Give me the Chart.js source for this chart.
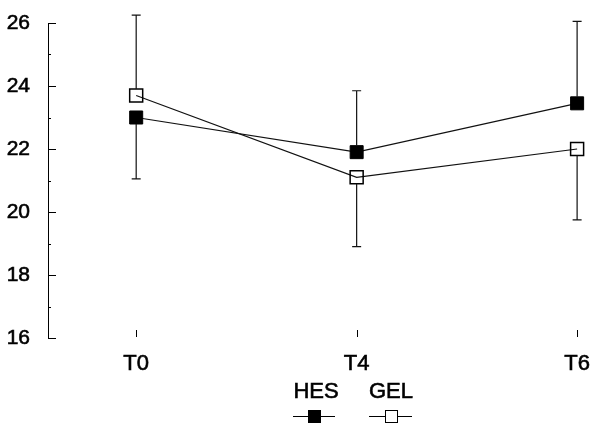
<!DOCTYPE html>
<html>
<head>
<meta charset="utf-8">
<script src="https://cdn.jsdelivr.net/npm/chart.js@4.4.1/dist/chart.umd.min.js"></script>
<style>
  html, body { margin: 0; padding: 0; background: #fff; }
  #wrap { position: relative; width: 591px; height: 423px; }
  .lg-text { position: absolute; top: 380px; font: 22px "Liberation Sans", Arial, sans-serif; line-height: 22px; color: #000; transform: translateX(-50%); -webkit-text-stroke: 0.6px #000; }
  .lg-line { position: absolute; top: 416px; height: 1px; background: #000; }
  .lg-box { position: absolute; box-sizing: border-box; width: 13px; height: 13px; top: 410px; }
</style>
</head>
<body>
<div id="wrap">
  <canvas id="chart"></canvas>
  <div class="lg-text" style="left:316px">HES</div>
  <div class="lg-text" style="left:391px">GEL</div>
  <div class="lg-line" style="left:293px; width:42px"></div>
  <div class="lg-box" style="left:308px; background:#000"></div>
  <div class="lg-line" style="left:369px; width:43px"></div>
  <div class="lg-box" style="left:385px; background:#fff; border:1.5px solid #000"></div>
</div>
<script>
const categories = ["T0", "T4", "T6"];
const hesMean = [23.0, 21.9, 23.45];
const gelMean = [23.7, 21.1, 22.0];
// end value of the one-sided error bars
const hesBar = [21.05, 23.85, 26.05];
const gelBar = [26.25, 18.9, 19.75];
const yTicks = [16, 18, 20, 22, 24, 26];

const font = "'Liberation Sans', Arial, sans-serif";

function toPoints(arr) {
  return arr.map((v, i) => ({ x: i, y: v }));
}

// one-sided error bars drawn with the chart scales
const errorBars = {
  id: "errorBars",
  afterDatasetsDraw(chart) {
    const ctx = chart.ctx;
    const y = chart.scales.y;
    const ends = [hesBar, gelBar];
    ctx.save();
    ctx.strokeStyle = "#111";
    ctx.lineWidth = 1.2;
    chart.data.datasets.forEach((ds, i) => {
      const meta = chart.getDatasetMeta(i);
      meta.data.forEach((pt, j) => {
        const yEnd = y.getPixelForValue(ends[i][j]);
        const dir = yEnd < pt.y ? -1 : 1;
        ctx.beginPath();
        ctx.moveTo(pt.x, pt.y + dir * 6.5);
        ctx.lineTo(pt.x, yEnd);
        ctx.moveTo(pt.x - 4.5, yEnd);
        ctx.lineTo(pt.x + 4.5, yEnd);
        ctx.stroke();
      });
    });
    ctx.restore();
  }
};

// inward tick marks like the original plot
const innerTicks = {
  id: "innerTicks",
  afterDraw(chart) {
    const ctx = chart.ctx;
    const x = chart.scales.x;
    const y = chart.scales.y;
    const area = chart.chartArea;
    ctx.save();
    ctx.strokeStyle = "#000";
    ctx.lineWidth = 1;
    ctx.beginPath();
    for (let v = 16; v <= 26; v++) {
      const py = Math.round(y.getPixelForValue(v)) + 0.5;
      const len = v % 2 === 0 ? 8 : 3;
      ctx.moveTo(area.left, py);
      ctx.lineTo(area.left + len, py);
    }
    categories.forEach((c, i) => {
      const px = Math.round(x.getPixelForValue(i)) + 0.5;
      ctx.moveTo(px, area.bottom - 8);
      ctx.lineTo(px, area.bottom - 1);
    });
    ctx.stroke();
    ctx.restore();
  }
};

new Chart(document.getElementById("chart"), {
  type: "line",
  data: {
    datasets: [
      {
        label: "HES",
        data: toPoints(hesMean),
        borderColor: "#111",
        borderWidth: 1.2,
        pointStyle: "rect",
        pointRadius: 9.2,
        pointBackgroundColor: "#000",
        pointBorderColor: "#000",
        pointBorderWidth: 1,
        clip: false
      },
      {
        label: "GEL",
        data: toPoints(gelMean),
        borderColor: "#111",
        borderWidth: 1.2,
        pointStyle: "rect",
        pointRadius: 9.2,
        pointBackgroundColor: "rgba(255,255,255,0)",
        pointBorderColor: "#000",
        pointBorderWidth: 1.5,
        clip: false
      }
    ]
  },
  options: {
    responsive: true,
    maintainAspectRatio: false,
    animation: false,
    layout: { autoPadding: false, padding: { top: 23, right: 0, bottom: 0, left: 0 } },
    plugins: {
      legend: { display: false },
      tooltip: { enabled: false }
    },
    scales: {
      x: {
        type: "linear",
        min: -0.4,
        max: 2.063,
        afterBuildTicks: (scale) => {
          scale.ticks = categories.map((c, i) => ({ value: i }));
        },
        afterFit: (scale) => {
          scale.height = 85;
          scale.paddingLeft = 0;
          scale.paddingRight = 0;
        },
        grid: { display: false },
        border: { display: false },
        ticks: {
          color: "#000",
          font: { family: font, size: 22 },
          padding: 5,
          textStrokeColor: "#000",
          textStrokeWidth: 0.6,
          callback: (v) => categories[v]
        }
      },
      y: {
        min: 16,
        max: 26,
        afterBuildTicks: (scale) => {
          scale.ticks = yTicks.map((v) => ({ value: v }));
        },
        afterFit: (scale) => { scale.width = 48; },
        grid: { display: false },
        border: { display: true, color: "#000", width: 1 },
        ticks: {
          color: "#000",
          font: { family: font, size: 21 },
          padding: 10,
          textStrokeColor: "#000",
          textStrokeWidth: 0.6
        }
      }
    }
  },
  plugins: [errorBars, innerTicks]
});
</script>
</body>
</html>
